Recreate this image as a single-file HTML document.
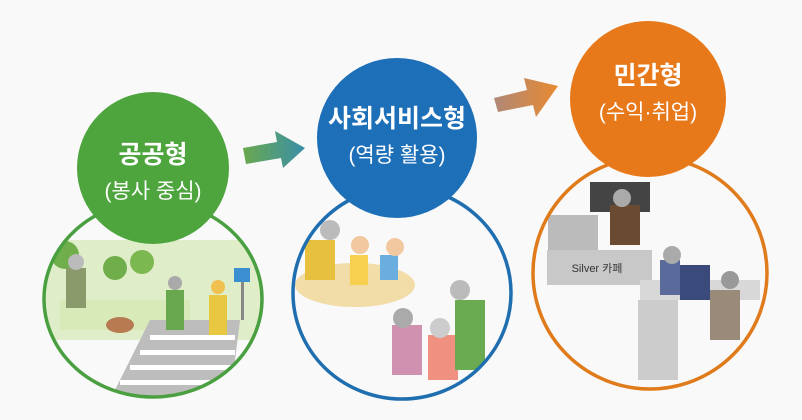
<!DOCTYPE html>
<html><head><meta charset="utf-8"><style>
body{margin:0;width:802px;height:415px;overflow:hidden;background:#f9f9f9;font-family:"Liberation Sans","Noto Sans CJK KR",sans-serif}
</style></head><body>
<svg width="802" height="415" viewBox="0 0 802 415" xmlns="http://www.w3.org/2000/svg">
<defs>
<linearGradient id="a1" x1="0" x2="1"><stop offset="0" stop-color="#6aa84f"/><stop offset="1" stop-color="#3a8fa8"/></linearGradient>
<linearGradient id="a2" x1="0" x2="1"><stop offset="0" stop-color="#b08878"/><stop offset="1" stop-color="#e88a30"/></linearGradient>
<clipPath id="c1"><ellipse cx="153" cy="299" rx="109" ry="98"/></clipPath>
<clipPath id="c2"><ellipse cx="402" cy="293" rx="109" ry="106"/></clipPath>
<clipPath id="c3"><ellipse cx="650" cy="273" rx="117" ry="116"/></clipPath>
</defs>
<g clip-path="url(#c1)">
<rect x="40" y="240" width="230" height="100" fill="#dfeec9"/>
<circle cx="65" cy="255" r="14" fill="#6fae4a"/><circle cx="115" cy="268" r="12" fill="#6fae4a"/><circle cx="142" cy="262" r="12" fill="#7bb84f"/>
<rect x="60" y="300" width="130" height="30" fill="#d8eab8"/>
<polygon points="150,320 240,320 230,400 110,400" fill="#bdbdbd"/>
<rect x="150" y="335" width="85" height="5" fill="#fff"/><rect x="140" y="350" width="95" height="5" fill="#fff"/><rect x="130" y="365" width="105" height="5" fill="#fff"/><rect x="120" y="380" width="115" height="5" fill="#fff"/>
<rect x="66" y="268" width="20" height="40" fill="#8a9a6a"/><circle cx="76" cy="262" r="8" fill="#bbb"/>
<rect x="166" y="290" width="18" height="40" fill="#6aa84f"/><circle cx="175" cy="283" r="7" fill="#aaa"/>
<rect x="209" y="295" width="18" height="40" fill="#e8c840"/><circle cx="218" cy="287" r="7" fill="#f0c050"/>
<rect x="241" y="280" width="3" height="40" fill="#888"/><rect x="234" y="268" width="16" height="14" fill="#3a8fd0"/>
<ellipse cx="120" cy="325" rx="14" ry="8" fill="#b87a50"/>
</g>
<ellipse cx="153" cy="299" rx="109" ry="98" fill="none" stroke="#4aa040" stroke-width="3.5"/>
<circle cx="153" cy="168" r="76" fill="#4ea53e"/>
<text x="153" y="163" text-anchor="middle" fill="#fff" font-size="25" font-weight="bold">공공형</text>
<text x="153" y="198" text-anchor="middle" fill="#fff" font-size="21">(봉사 중심)</text>
<g clip-path="url(#c2)">
<ellipse cx="355" cy="285" rx="60" ry="22" fill="#f2dca8"/>
<rect x="305" y="240" width="30" height="40" fill="#e8c040"/><circle cx="330" cy="230" r="10" fill="#bbb"/>
<rect x="350" y="255" width="18" height="30" fill="#f8d050"/><circle cx="360" cy="245" r="9" fill="#f2c8a0"/>
<rect x="380" y="255" width="18" height="25" fill="#6aaee0"/><circle cx="395" cy="247" r="9" fill="#f2c8a0"/>
<rect x="392" y="325" width="30" height="50" fill="#d090b0"/><circle cx="403" cy="318" r="10" fill="#aaa"/>
<rect x="428" y="335" width="30" height="45" fill="#f09080"/><circle cx="440" cy="328" r="10" fill="#ccc"/>
<rect x="455" y="300" width="30" height="70" fill="#6aaa50"/><circle cx="460" cy="290" r="10" fill="#bbb"/>
</g>
<ellipse cx="402" cy="293" rx="109" ry="106" fill="none" stroke="#1f6eb0" stroke-width="3.5"/>
<circle cx="397" cy="138" r="80" fill="#1d6fb8"/>
<text x="397" y="127" text-anchor="middle" fill="#fff" font-size="25" font-weight="bold">사회서비스형</text>
<text x="397" y="162" text-anchor="middle" fill="#fff" font-size="21">(역량 활용)</text>
<g clip-path="url(#c3)">
<rect x="590" y="182" width="60" height="30" fill="#444"/>
<rect x="548" y="215" width="50" height="35" fill="#bbb"/>
<rect x="610" y="205" width="30" height="40" fill="#6a4a30"/><circle cx="622" cy="198" r="9" fill="#aaa"/>
<rect x="547" y="250" width="105" height="35" fill="#c8c8c8"/>
<text x="597" y="272" text-anchor="middle" fill="#333" font-size="11">Silver 카페</text>
<rect x="640" y="280" width="120" height="20" fill="#d8d8d8"/>
<rect x="638" y="300" width="40" height="80" fill="#ccc"/>
<rect x="680" y="265" width="30" height="35" fill="#3a4a7a"/><rect x="660" y="260" width="20" height="35" fill="#5a6a9a"/>
<circle cx="672" cy="255" r="9" fill="#aaa"/>
<rect x="710" y="290" width="30" height="50" fill="#9a8a7a"/><circle cx="730" cy="280" r="9" fill="#999"/>
</g>
<ellipse cx="650" cy="273" rx="117" ry="116" fill="none" stroke="#e07b1c" stroke-width="3.5"/>
<circle cx="648" cy="99" r="78" fill="#e8791a"/>
<text x="648" y="84" text-anchor="middle" fill="#fff" font-size="25" font-weight="bold">민간형</text>
<text x="648" y="119" text-anchor="middle" fill="#fff" font-size="21">(수익·취업)</text>
<polygon points="243,148 277,142 275,131 305,148 283,168 281,158 246,164" fill="url(#a1)"/>
<polygon points="494,98 527,90 524,78 558,86 536,117 533,105 498,112" fill="url(#a2)"/>
</svg>
</body></html>
